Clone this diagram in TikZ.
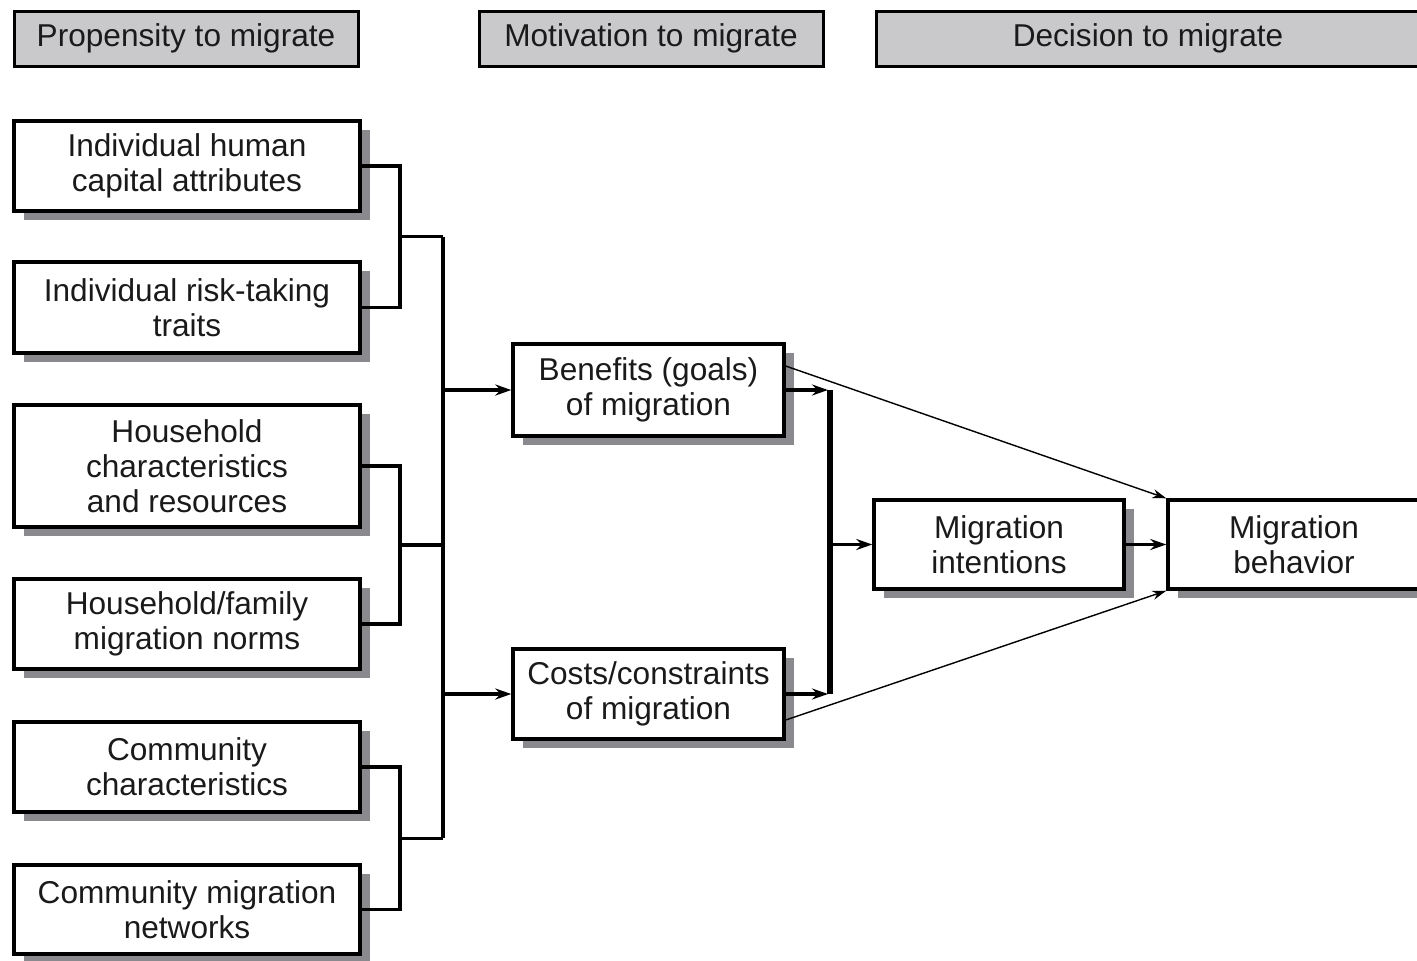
\documentclass[tikz,border=0pt]{standalone}
\usepackage{fontspec}
\setmainfont{Liberation Sans}
\usetikzlibrary{shadows,arrows.meta,calc}
\definecolor{shadowgray}{HTML}{8A8A8E}
\definecolor{headgray}{HTML}{C9C9CC}
\definecolor{inkc}{HTML}{1A1A1A}
\tikzset{
  txt/.style={font=\fontsize{15.8}{17.6}\selectfont, text=inkc, align=center},
  box/.style={txt, draw=black, line width=1.7pt, fill=white, inner sep=0pt,
     drop shadow={shadow xshift=5pt, shadow yshift=-4.5pt, fill=shadowgray, opacity=1}},
  headbox/.style={txt, draw=black, line width=1.5pt, fill=headgray, inner sep=0pt,
     drop shadow={shadow xshift=1.2pt, shadow yshift=-1.2pt, fill=black, opacity=1}},
  conn/.style={line width=1.7pt, draw=black},
  spine/.style={line width=3pt, draw=black},
  arr/.style={line width=1.7pt, draw=black, -{Stealth[length=8pt,width=5.5pt]}},
  thinarr/.style={line width=0.7pt, draw=black, -{Stealth[length=7pt,width=4.5pt]}},
}
\begin{document}
\begin{tikzpicture}[x=0.5pt,y=-0.5pt]
\useasboundingbox (0,0) rectangle (1417,960);
% headers
\node[headbox, minimum width=172pt, minimum height=27.5pt] (h1) at (186,38.5) {Propensity to migrate};
\node[headbox, minimum width=172pt, minimum height=27.5pt] (h2) at (651,38.5) {Motivation to migrate};
\node[headbox, minimum width=272pt, minimum height=27.5pt] (h3) at (1148,38.5) {Decision to migrate};
% left column
\node[box, minimum width=173pt, minimum height=45pt] (b1) at (187,166) {Individual human\\capital attributes};
\node[box, minimum width=173pt, minimum height=45.5pt] (b2) at (187,307.5) {Individual risk-taking\\traits};
\node[box, minimum width=173pt, minimum height=61pt] (b3) at (187,466) {Household\\characteristics\\and resources};
\node[box, minimum width=173pt, minimum height=45pt] (b4) at (187,624) {Household/family\\migration norms};
\node[box, minimum width=173pt, minimum height=45pt] (b5) at (187,767) {Community\\characteristics};
\node[box, minimum width=173pt, minimum height=44.5pt] (b6) at (187,909.5) {Community migration\\networks};
% middle
\node[box, minimum width=135.5pt, minimum height=46pt] (ben) at (648.5,390) {Benefits (goals)\\of migration};
\node[box, minimum width=135.5pt, minimum height=45pt] (cost) at (648.5,694) {Costs/constraints\\of migration};
% right
\node[box, minimum width=125pt, minimum height=44.5pt] (int) at (999,544.5) {Migration\\intentions};
\node[box, minimum width=126pt, minimum height=44.5pt] (beh) at (1294,544.5) {Migration\\behavior};
% bracket x positions
\coordinate (bx) at (400,0);
\coordinate (sx) at (443,0);
\coordinate (rx) at (830,0);
\coordinate (m1) at ($(b1.east)!0.5!(b2.east)$);
\coordinate (m2) at ($(b3.east)!0.5!(b4.east)$);
\coordinate (m3) at ($(b5.east)!0.5!(b6.east)$);
% brackets
\draw[conn] (b1.east) -- (b1.east -| bx) -- (b2.east -| bx) -- (b2.east);
\draw[conn] (b3.east) -- (b3.east -| bx) -- (b4.east -| bx) -- (b4.east);
\draw[conn] (b5.east) -- (b5.east -| bx) -- (b6.east -| bx) -- (b6.east);
\draw[conn] (m1 -| bx) -- (m1 -| sx);
\draw[conn] (m2 -| bx) -- (m2 -| sx);
\draw[conn] (m3 -| bx) -- (m3 -| sx);
\draw[conn] (m1 -| sx) -- (m3 -| sx);
\draw[arr] (ben.west -| sx) -- (ben.west);
\draw[arr] (cost.west -| sx) -- (cost.west);
% right side
\draw[spine] (ben.east -| rx) -- (cost.east -| rx);
\draw[arr] (ben.east) -- ([xshift=-1pt]ben.east -| rx);
\draw[arr] (cost.east) -- ([xshift=-1pt]cost.east -| rx);
\draw[arr] (int.west -| rx) -- (int.west);
\draw[arr] (int.east) -- (beh.west);
\draw[thinarr] ([yshift=12pt]ben.east) -- (beh.north west);
\draw[thinarr] ([yshift=-13pt]cost.east) -- (beh.south west);
\end{tikzpicture}
\end{document}
